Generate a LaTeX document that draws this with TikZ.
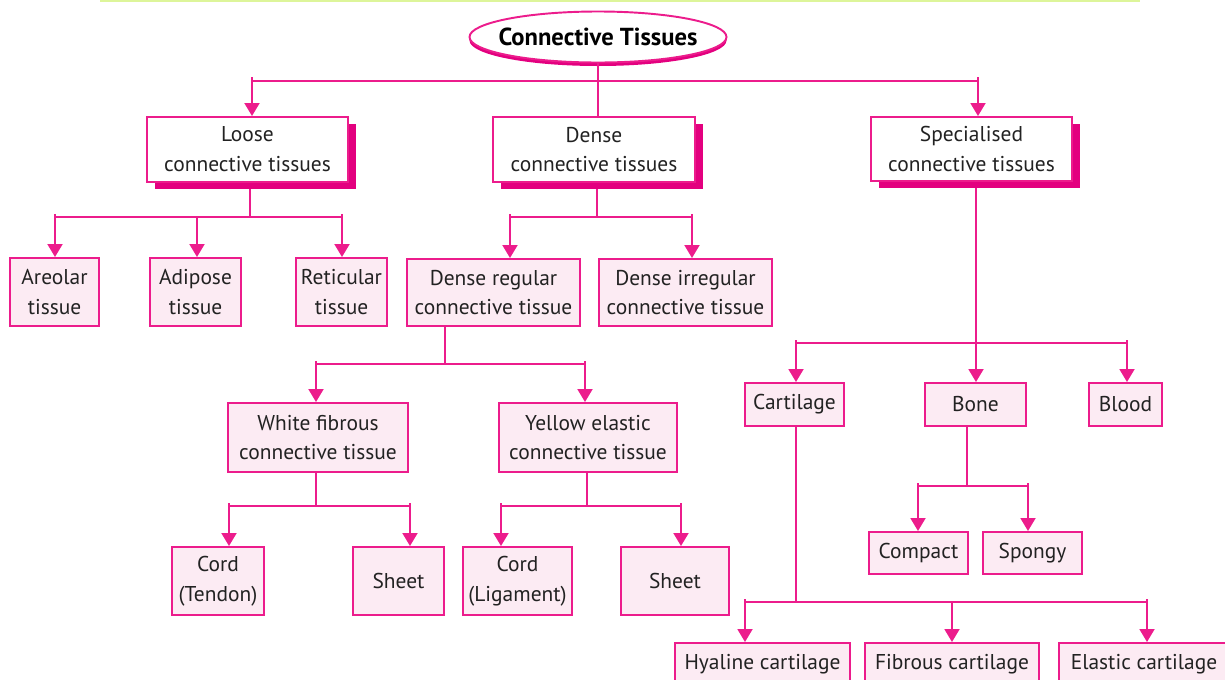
\documentclass[tikz,border=0pt]{standalone}
\usepackage{fontspec}
\setmainfont{PT Sans}
\usetikzlibrary{arrows.meta,shapes.geometric,shadows}

\definecolor{pinkline}{HTML}{EC1C8C}
\definecolor{pinkshade}{HTML}{E3007F}
\definecolor{pinkfill}{HTML}{FCEBF3}
\definecolor{limeline}{HTML}{DDF59A}
\definecolor{inktext}{HTML}{222222}

\tikzset{
  wh/.style 2 args={minimum width=#1*0.02cm, minimum height=#2*0.02cm},
  box/.style={draw=pinkline, line width=1.1pt, fill=pinkfill, inner sep=0pt,
    align=center, text=inktext, font=\fontsize{12.2}{17}\selectfont},
  mainbox/.style={box, fill=white,
    drop shadow={shadow xshift=0.16cm, shadow yshift=-0.14cm, fill=pinkshade, opacity=1}},
  wire/.style={draw=pinkline, line width=1.1pt},
  arr/.style={wire, -{Triangle[length=0.26cm, width=0.3cm]}},
}

\begin{document}
\begin{tikzpicture}[x=0.02cm, y=-0.02cm]
    \useasboundingbox (0, 0) rectangle (1225, 680);
    \draw[limeline, line width=1.6pt] (100, 1) -- (1140, 1);

    % title
    \node[ellipse, draw=pinkline, line width=1.1pt, fill=white, wh={257}{51},
        inner xsep=-6.2pt, inner ysep=0pt,
        drop shadow={shadow xshift=0cm, shadow yshift=-0.07cm, fill=pinkshade, opacity=1},
        font=\bfseries\fontsize{14}{16}\selectfont] (root) at (598, 37) {Connective Tissues};

    % level 1
    \node[mainbox, wh={201}{65}] (loose) at (247.5, 149.5) {Loose\\connective tissues};
    \node[mainbox, wh={202}{65}] (dense) at (594, 149.5) {Dense\\connective tissues};
    \node[mainbox, wh={201}{64}] (special) at (971.5, 149) {Specialised\\connective tissues};

    % loose
    \node[box, wh={89}{68}] (areolar) at (54.5, 292) {Areolar\\tissue};
    \node[box, wh={91}{68}] (adipose) at (195.5, 292) {Adipose\\tissue};
    \node[box, wh={91}{68}] (reticular) at (341.5, 292) {Reticular\\tissue};

    % dense
    \node[box, wh={173}{67}] (dreg) at (493.5, 292.5) {Dense regular\\connective tissue};
    \node[box, wh={173}{67}] (dirr) at (685.5, 292.5) {Dense irregular\\connective tissue};
    \node[box, wh={180}{69}] (white) at (318, 437.5) {White fibrous\\connective tissue};
    \node[box, wh={178}{69}] (yellow) at (588, 437.5) {Yellow elastic\\connective tissue};
    \node[box, wh={92}{68}] (cordt) at (218, 581) {Cord\\(Tendon)};
    \node[box, wh={91}{68}] (sheeta) at (398.5, 581) {Sheet};
    \node[box, wh={109}{68}] (cordl) at (517.5, 581) {Cord\\(Ligament)};
    \node[box, wh={108}{68}] (sheetb) at (675, 581) {Sheet};

    % specialised
    \node[box, wh={99}{43}] (cart) at (794.5, 404.5) {Cartilage};
    \node[box, wh={101}{43}] (bone) at (975.5, 404.5) {Bone};
    \node[box, wh={73}{43}] (blood) at (1125.5, 404.5) {Blood};
    \node[box, wh={99}{42}] (compact) at (918.5, 553) {Compact};
    \node[box, wh={99}{42}] (spongy) at (1032.5, 553) {Spongy};
    \node[box, wh={175}{42}] (hyaline) at (762.5, 664) {Hyaline cartilage};
    \node[box, wh={174}{42}] (fibrous) at (952, 664) {Fibrous cartilage};
    \node[box, wh={170}{42}] (elastic) at (1144, 664) {Elastic cartilage};

    % bus ends (the tick tops)
    \coordinate (r1) at (252, 77);   \coordinate (r2) at (978, 77);
    \coordinate (l1) at (55, 214);   \coordinate (l2) at (197, 217);  \coordinate (l3) at (342, 214);
    \coordinate (d1) at (510, 214);  \coordinate (d2) at (692, 214);
    \coordinate (g1) at (316, 361);  \coordinate (g2) at (585, 361);
    \coordinate (w1) at (229, 503);  \coordinate (w2) at (410, 503);
    \coordinate (y1) at (501, 503);  \coordinate (y2) at (681, 503);
    \coordinate (s1) at (796, 340);  \coordinate (s2) at (976, 343);  \coordinate (s3) at (1127, 340);
    \coordinate (o1) at (918, 483);  \coordinate (o2) at (1028, 483);
    \coordinate (c1) at (745, 599);  \coordinate (c2) at (952, 602);  \coordinate (c3) at (1147, 599);

    % root
    \draw[wire] (root.south) -- (root.south |- dense.north);
    \draw[wire] (252, 81) -- (978, 81);
    \draw[arr] (r1) -- (r1 |- loose.north);
    \draw[arr] (r2) -- (r2 |- special.north);

    % loose
    \draw[wire] (250, 189) -- (250, 217);
    \draw[wire] (55, 217) -- (342, 217);
    \draw[arr] (l1) -- (l1 |- areolar.north);
    \draw[arr] (l2) -- (l2 |- adipose.north);
    \draw[arr] (l3) -- (l3 |- reticular.north);

    % dense
    \draw[wire] (597, 189) -- (597, 217);
    \draw[wire] (510, 217) -- (692, 217);
    \draw[arr] (d1) -- (d1 |- dreg.north);
    \draw[arr] (d2) -- (d2 |- dirr.north);

    \draw[wire] (445, 326) -- (445, 364);
    \draw[wire] (316, 364) -- (585, 364);
    \draw[arr] (g1) -- (g1 |- white.north);
    \draw[arr] (g2) -- (g2 |- yellow.north);

    \draw[wire] (316, 472) -- (316, 506);
    \draw[wire] (229, 506) -- (410, 506);
    \draw[arr] (w1) -- (w1 |- cordt.north);
    \draw[arr] (w2) -- (w2 |- sheeta.north);

    \draw[wire] (587, 472) -- (587, 506);
    \draw[wire] (501, 506) -- (681, 506);
    \draw[arr] (y1) -- (y1 |- cordl.north);
    \draw[arr] (y2) -- (y2 |- sheetb.north);

    % specialised
    \draw[wire] (976, 188) -- (s2);
    \draw[arr] (s2) -- (s2 |- bone.north);
    \draw[wire] (796, 343) -- (1127, 343);
    \draw[arr] (s1) -- (s1 |- cart.north);
    \draw[arr] (s3) -- (s3 |- blood.north);

    \draw[wire] (967, 426) -- (967, 486);
    \draw[wire] (918, 486) -- (1028, 486);
    \draw[arr] (o1) -- (o1 |- compact.north);
    \draw[arr] (o2) -- (o2 |- spongy.north);

    \draw[wire] (796, 426) -- (796, 602);
    \draw[wire] (745, 602) -- (1147, 602);
    \draw[arr] (c1) -- (c1 |- hyaline.north);
    \draw[arr] (c2) -- (c2 |- fibrous.north);
    \draw[arr] (c3) -- (c3 |- elastic.north);
\end{tikzpicture}
\end{document}
